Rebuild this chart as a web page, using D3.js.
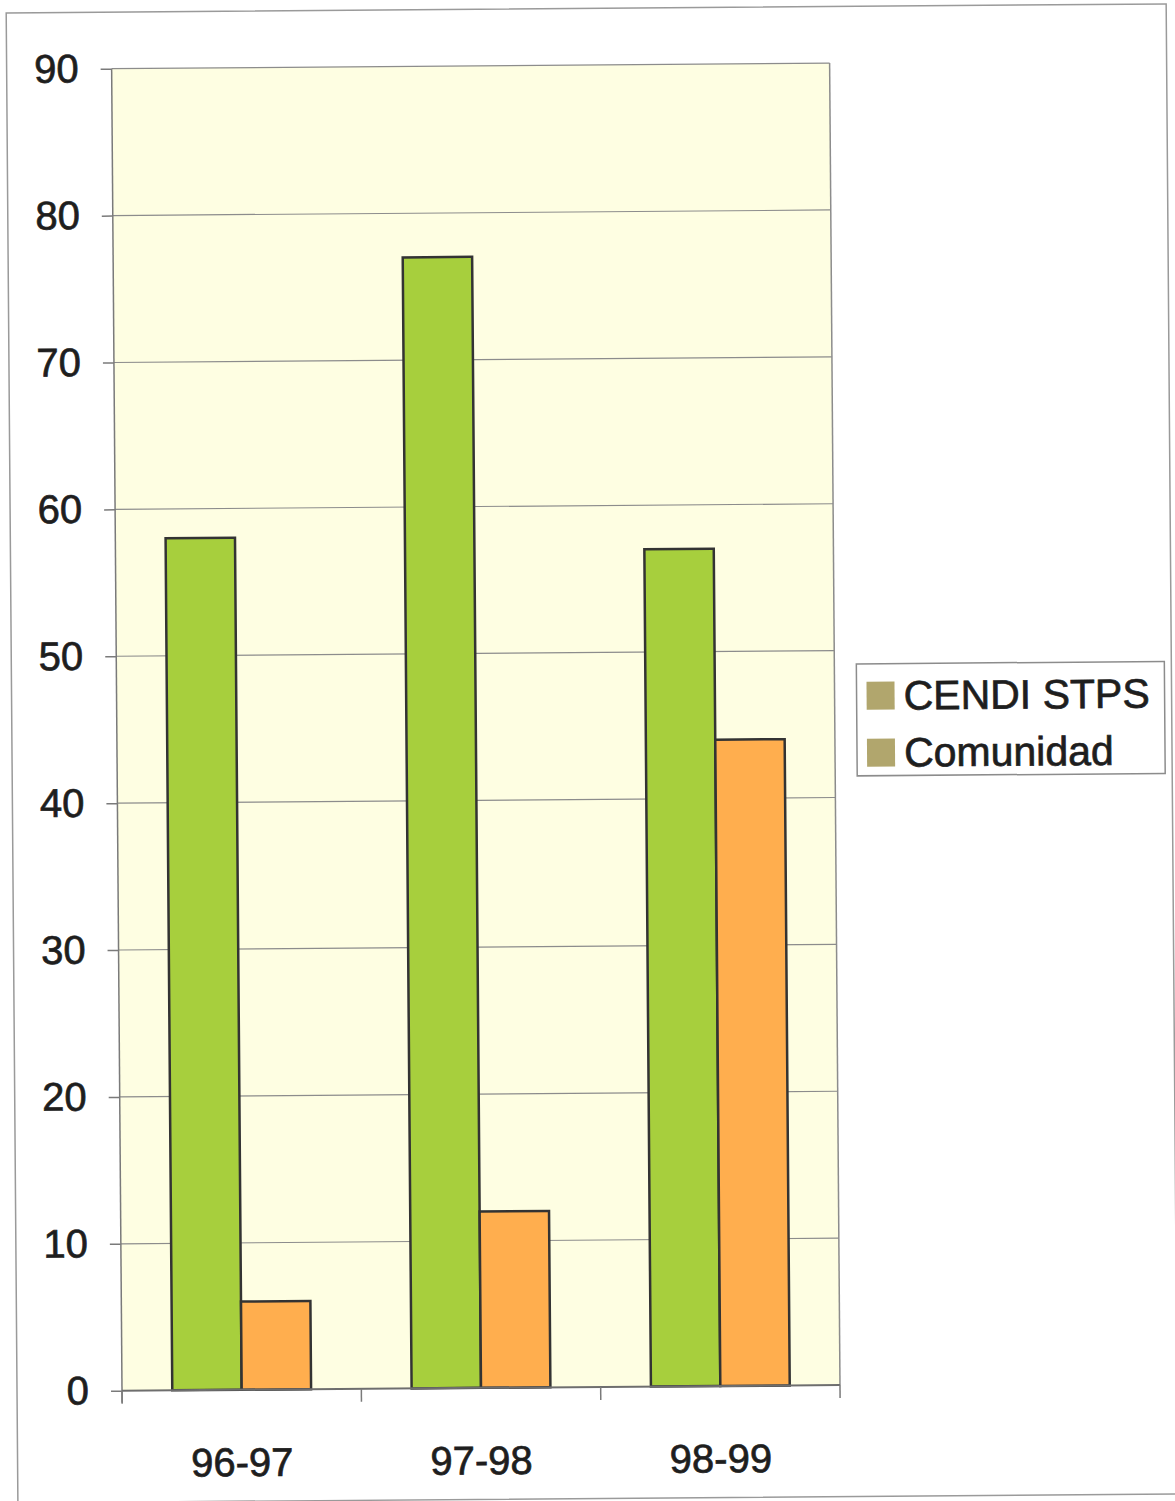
<!DOCTYPE html>
<html>
<head>
<meta charset="utf-8">
<script src="https://cdn.jsdelivr.net/npm/d3@7"></script>
<style>
  html, body { margin: 0; padding: 0; background: #ffffff; }
  svg { display: block; }
  text { font-family: "Liberation Sans", Arial, sans-serif; fill: #1e1e1e; stroke: #1e1e1e; stroke-width: 0.7px; }
</style>
</head>
<body>
<svg id="chart" width="1175" height="1501"></svg>
<script>
// School years and the two series being compared
const categories = ["96-97", "97-98", "98-99"];
const seriesNames = ["CENDI STPS", "Comunidad"];
const cendiValues = [58, 77, 57];
const comunidadValues = [6, 12, 44];
const yTicks = [0, 10, 20, 30, 40, 50, 60, 70, 80, 90];

const barColors = ["#a7cf3d", "#ffae4e"];
const legendColor = "#b1a66d";

const svg = d3.select("#chart");

// whole sheet sits at a slight tilt
const sheet = svg.append("g").attr("transform", "rotate(-0.45 587 750)");

// outer chart frame
sheet.append("rect")
  .attr("x", 12).attr("y", 8.5)
  .attr("width", 1160).attr("height", 1490)
  .attr("fill", "#ffffff").attr("stroke", "#9a9a9a").attr("stroke-width", 1.5);

const plot = { left: 117, right: 835, top: 65, bottom: 1387 };

const x0 = d3.scaleBand().domain(categories).range([plot.left, plot.right]).padding(0);
const gap = x0.bandwidth() * 0.42;
const x1 = d3.scaleBand().domain(seriesNames).range([gap / 2, x0.bandwidth() - gap / 2]).padding(0);
const y = d3.scaleLinear().domain([0, 90]).range([plot.bottom, plot.top]);

// plot background
sheet.append("rect")
  .attr("x", plot.left).attr("y", plot.top)
  .attr("width", plot.right - plot.left).attr("height", plot.bottom - plot.top)
  .attr("fill", "#fefee2");

// horizontal gridlines
sheet.append("g").selectAll("line")
  .data(yTicks.filter(d => d > 0))
  .join("line")
  .attr("x1", plot.left).attr("x2", plot.right)
  .attr("y1", d => y(d)).attr("y2", d => y(d))
  .attr("stroke", "#8c8c8c").attr("stroke-width", 1.2);

// right border of the plot area
sheet.append("line")
  .attr("x1", plot.right).attr("x2", plot.right)
  .attr("y1", plot.top).attr("y2", plot.bottom)
  .attr("stroke", "#8c8c8c").attr("stroke-width", 1.5);

// bars
const rows = categories.map((c, i) => ({ cat: c, vals: [cendiValues[i], comunidadValues[i]] }));
sheet.append("g").selectAll("g")
  .data(rows)
  .join("g")
  .attr("transform", d => `translate(${x0(d.cat)},0)`)
  .selectAll("rect")
  .data(d => d.vals.map((v, j) => ({ name: seriesNames[j], value: v, j })))
  .join("rect")
  .attr("x", d => x1(d.name))
  .attr("y", d => y(d.value))
  .attr("width", x1.bandwidth())
  .attr("height", d => y(0) - y(d.value))
  .attr("fill", d => barColors[d.j])
  .attr("stroke", "#333333").attr("stroke-width", 2.5);

// y axis
const yAxis = sheet.append("g")
  .attr("transform", `translate(${plot.left},0)`)
  .call(d3.axisLeft(y).tickValues(yTicks).tickSize(11).tickPadding(22));
yAxis.select(".domain").attr("stroke", "#7a7a7a").attr("stroke-width", 1.5)
  .attr("d", `M0,${plot.top}V${plot.bottom + 12}`);
yAxis.selectAll(".tick line").attr("stroke", "#7a7a7a").attr("stroke-width", 1.5);
yAxis.selectAll(".tick text")
  .style("font-size", "40px").style("font-family", "'Liberation Sans', Arial, sans-serif")
  .attr("fill", "#1e1e1e");

// x axis with ticks on category boundaries
const xAxis = sheet.append("g")
  .attr("transform", `translate(0,${plot.bottom})`)
  .call(d3.axisBottom(x0).tickSize(0).tickPadding(58));
xAxis.select(".domain").attr("stroke", "#6e6e6e").attr("stroke-width", 2)
  .attr("d", `M${plot.left},0H${plot.right}`);
xAxis.selectAll(".tick text")
  .style("font-size", "40px").style("font-family", "'Liberation Sans', Arial, sans-serif")
  .attr("fill", "#1e1e1e");
xAxis.append("g").selectAll("line")
  .data(categories.map(c => x0(c)).concat([plot.right]))
  .join("line")
  .attr("x1", d => d).attr("x2", d => d)
  .attr("y1", 0).attr("y2", 13)
  .attr("stroke", "#7a7a7a").attr("stroke-width", 1.5);

// legend
const legend = sheet.append("g").attr("transform", "translate(857,666)");
legend.append("rect")
  .attr("width", 308).attr("height", 112)
  .attr("fill", "#ffffff").attr("stroke", "#8c8c8c").attr("stroke-width", 1.5);
const items = legend.selectAll("g.item")
  .data(seriesNames)
  .join("g")
  .attr("class", "item")
  .attr("transform", (d, i) => `translate(0,${i * 57})`);
items.append("rect")
  .attr("x", 10).attr("y", 18).attr("width", 28).attr("height", 28)
  .attr("fill", legendColor);
items.append("text")
  .attr("x", 47).attr("y", 46)
  .style("font-size", "41px")
  .text(d => d);
</script>
</body>
</html>
